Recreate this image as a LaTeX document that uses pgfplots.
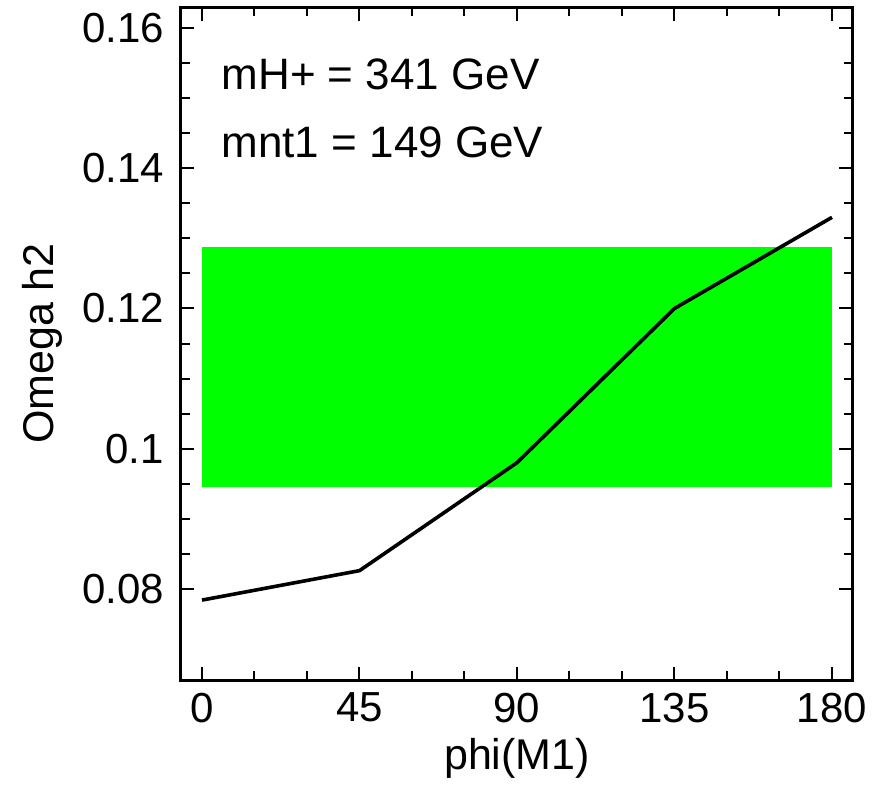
\documentclass[border=0pt]{standalone}
\usepackage{fontspec}
\setmainfont{Liberation Sans}
\usepackage{pgfplots}
\pgfplotsset{compat=1.18}

% relic-density curve versus the phase of M1
\pgfplotstableread{
phi   omega
0     0.0784
45    0.0826
90    0.0980
135   0.1200
180   0.1330
}\omegadata

\begin{document}
\begin{tikzpicture}
\begin{axis}[
  scale only axis,
  width=336pt, height=336.5pt,
  xmin=-6, xmax=186,
  ymin=0.067, ymax=0.163,
  xtick={0,45,90,135,180},
  minor x tick num=2,
  ytick={0.08,0.10,0.12,0.14,0.16},
  yticklabels={0.08,0.1,0.12,0.14,0.16},
  minor y tick num=3,
  tick align=inside,
  tick pos=both,
  major tick length=6.75pt,
  minor tick length=4.5pt,
  every tick/.style={line width=1pt, black},
  axis line style={line width=1.5pt},
  /pgf/number format/assume math mode=true,
  tick label style={font=\fontsize{21}{24}\selectfont},
  xticklabel style={yshift=-3pt},
  yticklabel style={xshift=-5pt},
  xlabel={phi(M1)},
  ylabel={Omega h2},
  label style={font=\fontsize{21.5}{25}\selectfont},
  xlabel style={yshift=-1pt},
  ylabel style={yshift=3pt},
  axis on top,
]
  % observed relic-density band
  \addplot[draw=none, fill=green, forget plot] coordinates {(0,0.0945) (180,0.0945) (180,0.1287) (0,0.1287)} -- cycle;
  \addplot[black, line width=1.8pt] table[x=phi, y=omega] {\omegadata};
  \node[anchor=base west, font=\fontsize{22}{26}\selectfont, inner sep=0pt] at (axis cs:5.5,0.1513) {mH+ = 341 GeV};
  \node[anchor=base west, font=\fontsize{22}{26}\selectfont, inner sep=0pt] at (axis cs:5.5,0.1416) {mnt1 = 149 GeV};
\end{axis}
\pgfresetboundingbox
\path (-90.5pt,-52pt) rectangle (349.5pt,340pt);
\end{tikzpicture}
\end{document}
